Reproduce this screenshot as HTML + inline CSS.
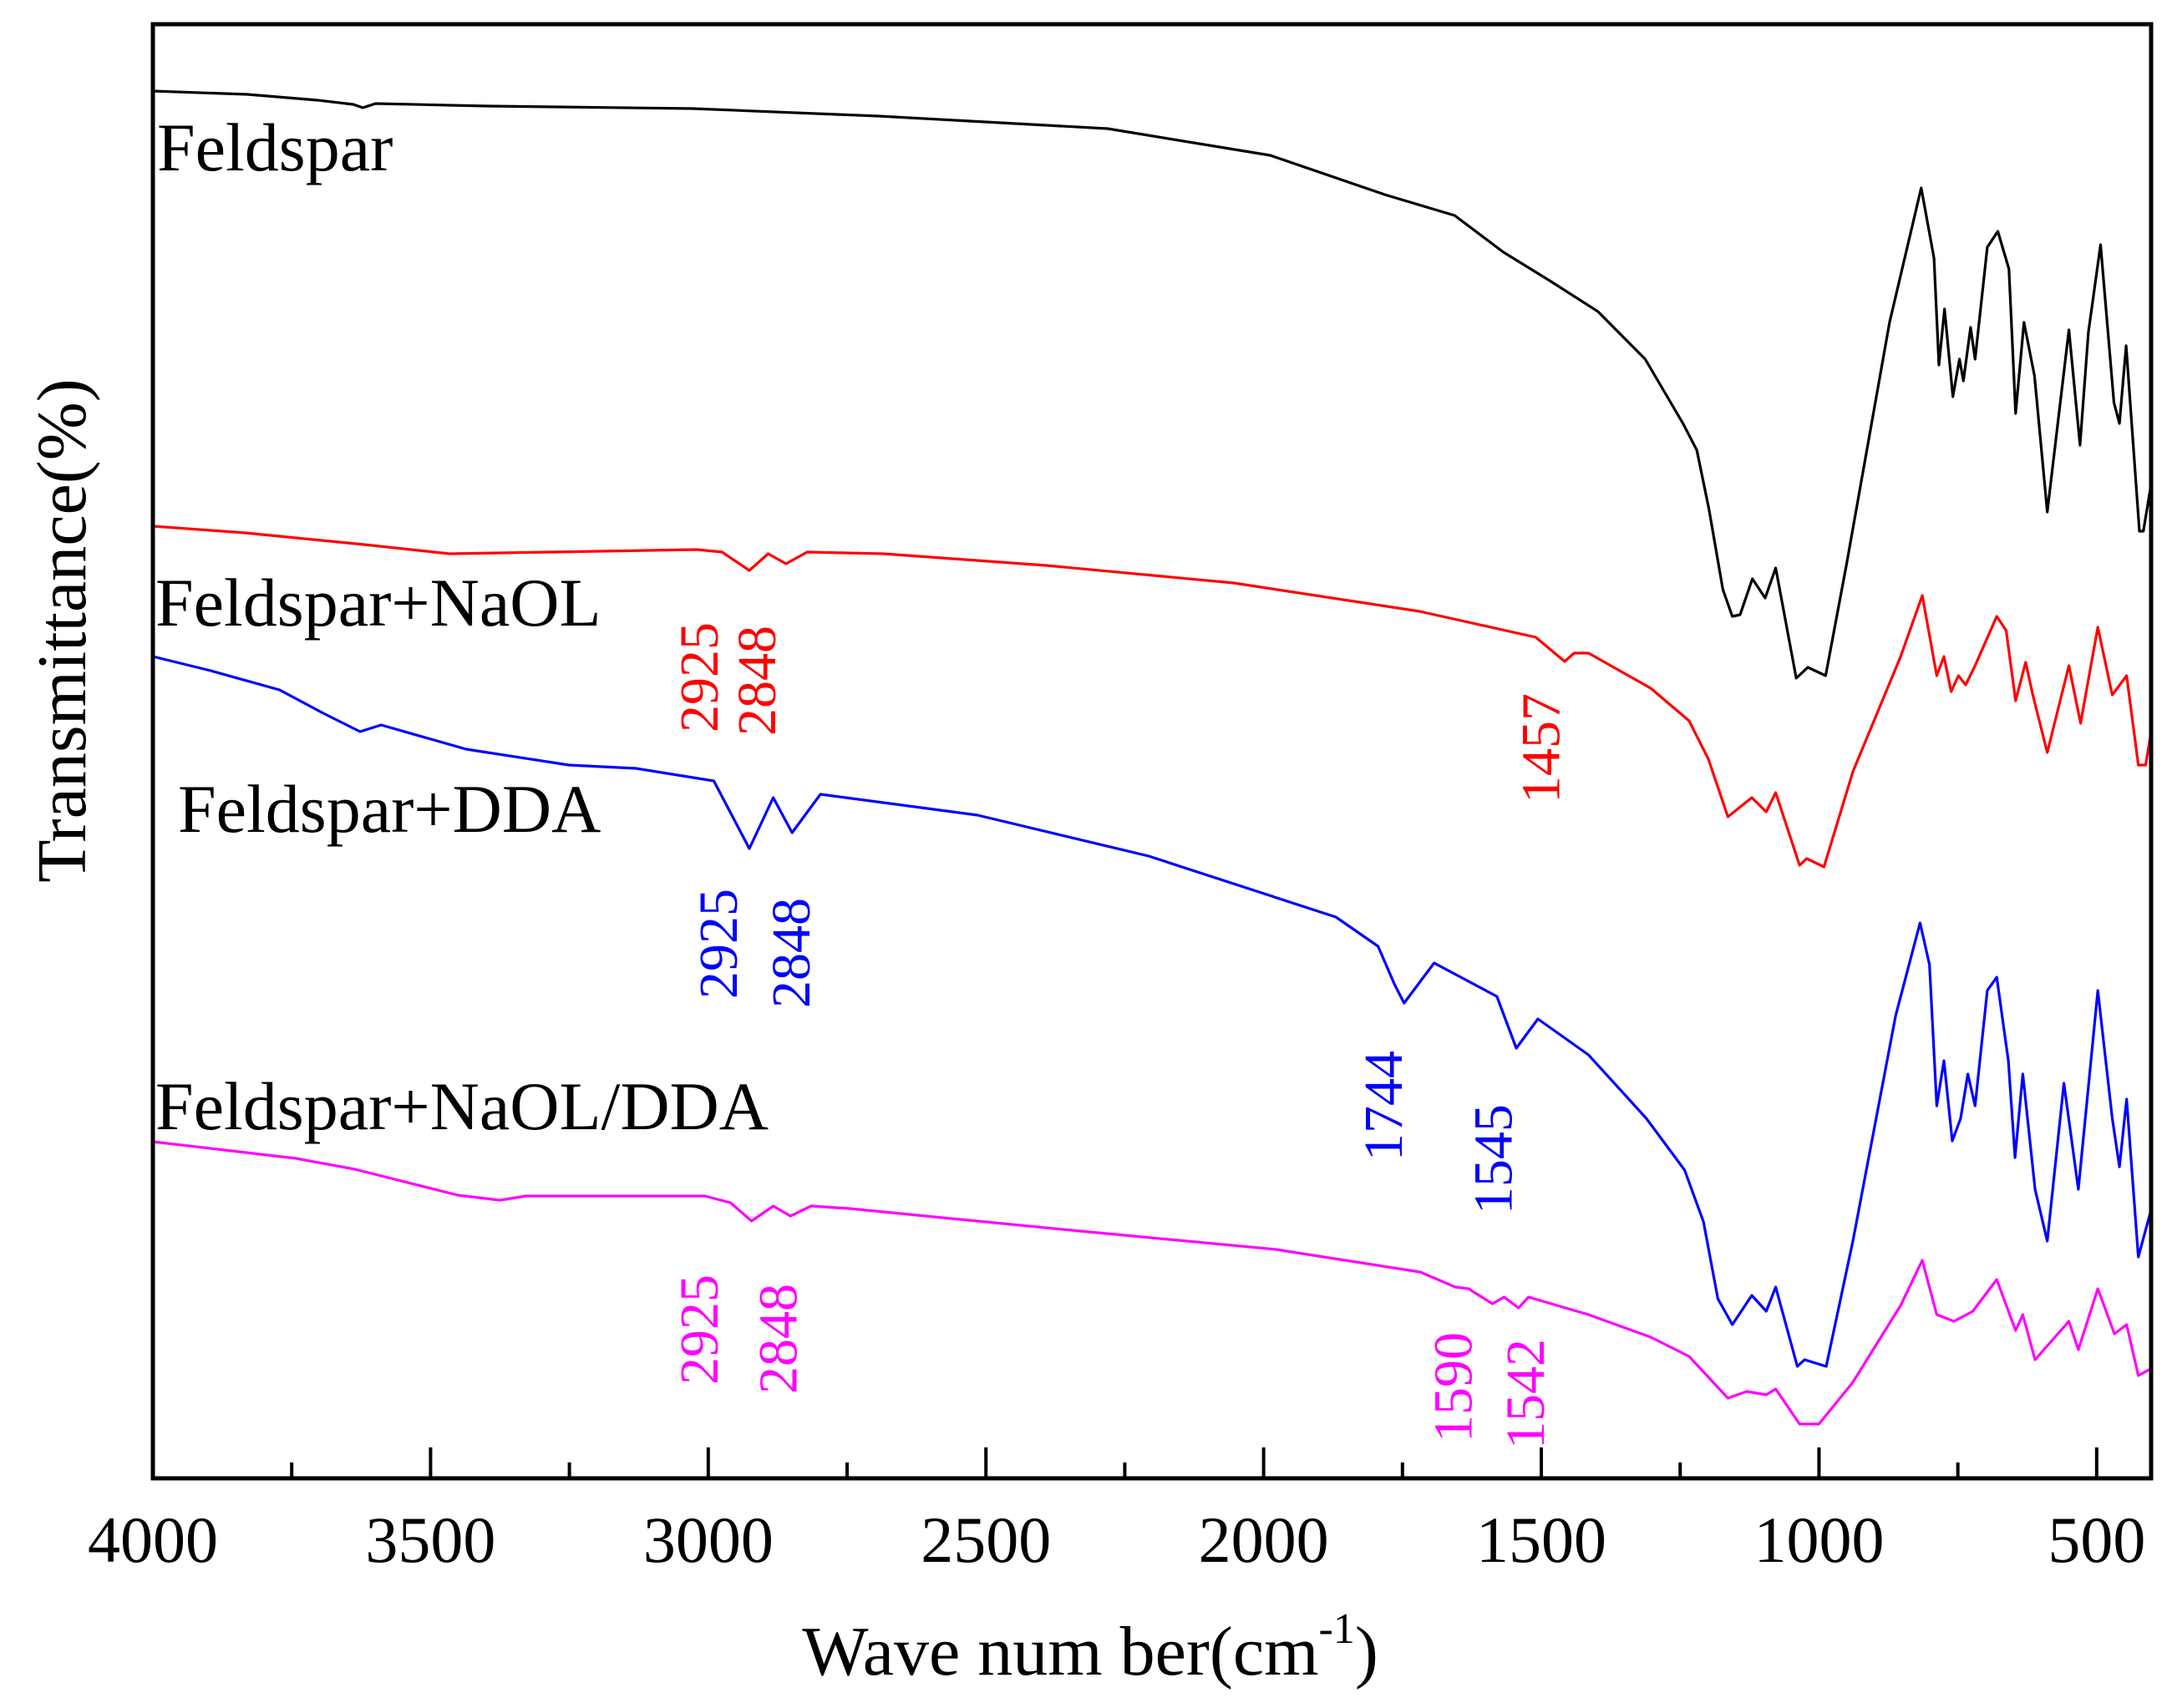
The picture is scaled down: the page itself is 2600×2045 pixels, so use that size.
<!DOCTYPE html>
<html><head><meta charset="utf-8">
<style>
html,body{margin:0;padding:0;background:#fff;}
svg{display:block;}
text{font-family:"Liberation Serif",serif;}
</style></head>
<body>
<svg id="chart" width="2600" height="2045" viewBox="0 0 2600 2045" xmlns="http://www.w3.org/2000/svg">
<defs><clipPath id="plotclip"><rect x="183" y="29" width="2392" height="1741"/></clipPath></defs>
<g id="series" clip-path="url(#plotclip)"></g>
<rect x="183" y="29" width="2392" height="1741" fill="none" stroke="#000" stroke-width="5"/>
<g id="ticks"></g>
<g id="labels">
<text x="188" y="204" font-size="82">Feldspar</text>
<text x="186" y="749" font-size="82">Feldspar+NaOL</text>
<text x="213" y="996" font-size="82">Feldspar+DDA</text>
<text x="186" y="1352" font-size="82">Feldspar+NaOL/DDA</text>
<text transform="translate(102,755) rotate(-90)" text-anchor="middle" font-size="84">Transmittance(%)</text>
<text x="1305" y="2005" text-anchor="middle" font-size="84">Wave num ber(cm<tspan font-size="52" dy="-38">-1</tspan><tspan dy="38">)</tspan></text>
</g>
<g id="annots"></g>
</svg>
<script>
const X_MAX = 4000, X_MIN = 402;
const PL = 183, PR = 2575, PT = 29, PB = 1770;
const Y_MIN = 0, Y_MAX = 1741;
function xs(w){ return PL + (X_MAX - w) / (X_MAX - X_MIN) * (PR - PL); }
function ys(v){ return PB - (v - Y_MIN) / (Y_MAX - Y_MIN) * (PB - PT); }

const majorTicks = [4000,3500,3000,2500,2000,1500,1000,500];
const minorTicks = [3750,3250,2750,2250,1750,1250,750];
const tickLabels = ["4000","3500","3000","2500","2000","1500","1000","500"];

const wnFeldspar = [4000,3830,3703,3639,3622,3599,3397,3028,2693,2281,1988,1782,1656,1568,1485,1398,1313,1245,1220,1198,1173,1156,1142,1120,1097,1078,1041,1020,988,950,873,816,793,784,774,759,747,740,727,719,697,678,658,646,631,612,589,550,530,515,493,469,459,447,423,416,400,388];
const tFeldspar = [1661,1657,1650,1645,1641,1646,1643,1640,1631,1616,1584,1537,1512,1468,1434,1397,1340,1263,1231,1160,1064,1032,1034,1077,1054,1090,958,971,961,1096,1384,1545,1461,1333,1400,1295,1340,1314,1378,1340,1474,1493,1448,1275,1384,1320,1157,1375,1237,1372,1477,1288,1263,1356,1134,1134,1198,1209];

const wnNaOL = [4000,3834,3620,3466,3283,3021,2975,2926,2892,2860,2822,2684,2392,2054,1719,1510,1458,1441,1415,1303,1234,1199,1164,1121,1095,1078,1035,1022,991,939,853,814,788,775,762,749,736,719,680,663,646,628,615,589,550,529,498,472,446,425,412,403];
const tNaOL = [1140,1132,1118,1107,1109,1112,1109,1087,1107,1095,1109,1107,1093,1072,1038,1007,978,988,988,946,907,861,792,815,798,821,734,742,732,846,984,1057,961,984,942,961,950,973,1032,1015,931,977,938,869,973,904,1019,938,961,854,854,889];

const wnDDA = [4000,3896,3772,3696,3627,3589,3436,3251,3130,2990,2926,2883,2849,2798,2515,2207,1870,1794,1764,1747,1693,1580,1545,1506,1415,1311,1242,1208,1182,1156,1121,1095,1078,1039,1026,987,939,862,818,801,788,775,760,745,732,719,697,680,659,647,633,611,589,559,533,498,472,459,446,425,403];
const tDDA = [984,967,944,917,894,902,873,854,850,835,754,815,773,819,794,745,672,637,591,569,617,577,515,550,507,431,369,307,215,184,219,200,229,134,142,134,284,554,665,615,446,500,404,431,484,446,584,600,500,384,484,346,284,473,346,584,431,373,454,265,319];

const wnMix = [4000,3742,3636,3451,3375,3328,3006,2960,2922,2883,2852,2815,2746,2362,1978,1718,1655,1631,1588,1567,1541,1523,1415,1303,1234,1164,1130,1095,1078,1035,1000,939,853,814,788,757,723,680,646,633,611,550,533,498,468,446,425,403];
const tMix = [403,383,370,339,333,338,338,330,308,326,314,326,323,298,274,247,229,227,209,217,204,217,196,169,146,96,104,100,107,65,65,115,207,261,196,188,200,238,177,196,142,188,154,227,173,184,123,131];

const annText = ["2925","2848","1457","2925","2848","1744","1545","2925","2848","1590","1542"];
const annWn = [3018,2914,1502,2983,2852,1786,1588,3018,2876,1660,1530];
const annY = [877,881,962,1196,1207,1390,1454,1658,1669,1727,1735];
const annColor = ["#ff0000","#ff0000","#ff0000","#0000ff","#0000ff","#0000ff","#0000ff","#ff00ff","#ff00ff","#ff00ff","#ff00ff"];

const NS = "http://www.w3.org/2000/svg";
const sg = document.getElementById('series');
function drawSeries(wn, t, color, name){
  const p = document.createElementNS(NS, 'path');
  let d = '';
  for (let i = 0; i < wn.length; i++) d += (i ? 'L' : 'M') + xs(wn[i]).toFixed(1) + ' ' + ys(t[i]).toFixed(1);
  p.setAttribute('d', d);
  p.setAttribute('fill', 'none');
  p.setAttribute('stroke', color);
  p.setAttribute('stroke-width', '3.2');
  p.setAttribute('stroke-linejoin', 'round');
  
  
  sg.appendChild(p);
}
drawSeries(wnFeldspar, tFeldspar, '#000000', 'series-feldspar');
drawSeries(wnNaOL, tNaOL, '#ff0000', 'series-feldspar-naol');
drawSeries(wnDDA, tDDA, '#0000ff', 'series-feldspar-dda');
drawSeries(wnMix, tMix, '#ff00ff', 'series-feldspar-naol-dda');

const tg = document.getElementById('ticks');
majorTicks.forEach((w, i) => {
  const l = document.createElementNS(NS, 'line');
  l.setAttribute('x1', xs(w)); l.setAttribute('x2', xs(w));
  l.setAttribute('y1', PB); l.setAttribute('y2', PB - 37);
  l.setAttribute('stroke', '#000'); l.setAttribute('stroke-width', '4');
  
  
  tg.appendChild(l);
  const tx = document.createElementNS(NS, 'text');
  tx.setAttribute('x', xs(w)); tx.setAttribute('y', 1870);
  tx.setAttribute('text-anchor', 'middle'); tx.setAttribute('font-size', '78');
  tx.textContent = tickLabels[i];
  
  
  tg.appendChild(tx);
});
minorTicks.forEach(w => {
  const l = document.createElementNS(NS, 'line');
  l.setAttribute('x1', xs(w)); l.setAttribute('x2', xs(w));
  l.setAttribute('y1', PB); l.setAttribute('y2', PB - 19);
  l.setAttribute('stroke', '#000'); l.setAttribute('stroke-width', '4');
  
  
  tg.appendChild(l);
});

const ag = document.getElementById('annots');
annText.forEach((s, i) => {
  const tx = document.createElementNS(NS, 'text');
  const x = xs(annWn[i]) + 23;
  tx.setAttribute('transform', 'translate(' + x.toFixed(1) + ',' + annY[i] + ') rotate(-90)');
  tx.setAttribute('font-size', '66');
  tx.setAttribute('fill', annColor[i]);
  tx.textContent = s;
  
  
  ag.appendChild(tx);
});
</script>
</body></html>
